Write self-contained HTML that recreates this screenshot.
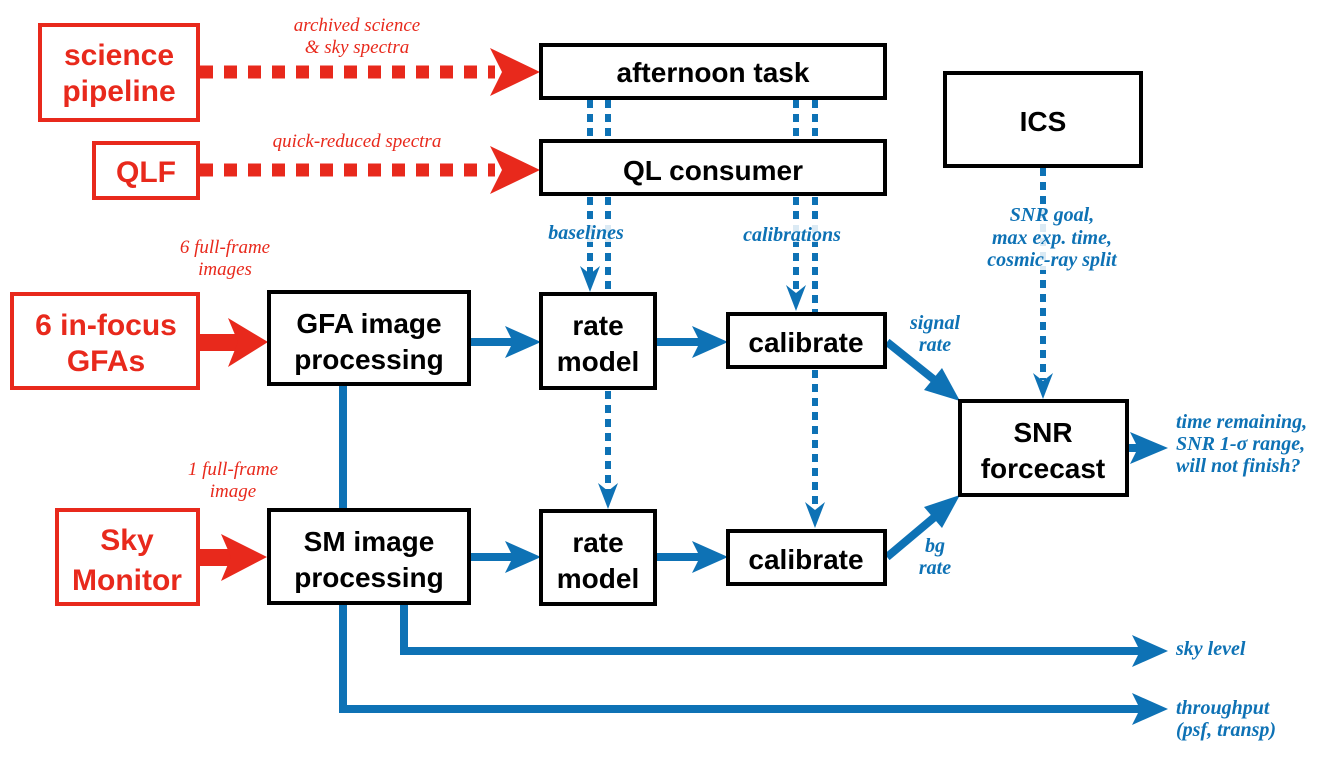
<!DOCTYPE html>
<html><head><meta charset="utf-8"><style>
html,body{margin:0;padding:0;background:#fff;}
svg{display:block;}
.b{font-family:"Liberation Sans",sans-serif;font-weight:bold;font-size:28px;text-anchor:middle;}
.r{fill:#e8291c;font-size:30px;}
.l{font-family:"Liberation Serif",serif;font-style:italic;font-size:19px;text-anchor:middle;}
.lb{fill:#0e72b5;font-weight:bold;font-size:20px;}
</style></head><body>
<svg width="1321" height="759" viewBox="0 0 1321 759" xmlns="http://www.w3.org/2000/svg">
<g stroke="#e8291c" stroke-width="13" stroke-dasharray="13,11">
<line x1="200" y1="72" x2="495" y2="72"/>
<line x1="200" y1="170" x2="495" y2="170"/>
</g>
<g fill="#e8291c">
<path d="M490,48 L540,72 L490,96 L502,72z"/>
<path d="M490,146 L540,170 L490,194 L502,170z"/>
<rect x="198" y="334" width="40" height="17"/>
<path d="M228,318 L268,342 L228,367 L238,342z"/>
<rect x="198" y="549" width="40" height="17"/>
<path d="M221,534 L267,557 L221,581 L231,557z"/>
</g>
<g stroke="#0e72b5" stroke-width="6" stroke-dasharray="8,6" fill="none">
<line x1="590" y1="100" x2="590" y2="140"/>
<line x1="608" y1="100" x2="608" y2="140"/>
<line x1="796" y1="100" x2="796" y2="140"/>
<line x1="815" y1="100" x2="815" y2="140"/>
<line x1="590" y1="197" x2="590" y2="275"/>
<line x1="608" y1="197" x2="608" y2="292"/>
<line x1="796" y1="197" x2="796" y2="295"/>
<line x1="815" y1="197" x2="815" y2="312"/>
<line x1="608" y1="391" x2="608" y2="492"/>
<line x1="815" y1="370" x2="815" y2="512"/>
<line x1="1043" y1="168" x2="1043" y2="380"/>
</g>
<g fill="#0e72b5">
<path d="M580,266 L590,292 L600,266 L590,274z"/>
<path d="M786,285 L796,311 L806,285 L796,293z"/>
<path d="M598,483 L608,509 L618,483 L608,491z"/>
<path d="M805,502 L815,528 L825,502 L815,510z"/>
<path d="M1033,373 L1043,399 L1053,373 L1043,381z"/>
</g>
<g fill="#fff" opacity="0.85">
<rect x="546" y="222" width="80" height="20"/>
<rect x="742" y="222" width="100" height="20"/>
<rect x="990" y="205" width="130" height="65"/>
</g>
<g stroke="#0e72b5" stroke-width="8" fill="none">
<line x1="470" y1="342" x2="515" y2="342"/>
<line x1="656" y1="342" x2="700" y2="342"/>
<line x1="470" y1="557" x2="515" y2="557"/>
<line x1="656" y1="557" x2="700" y2="557"/>
<line x1="887" y1="342" x2="937" y2="382"/>
<line x1="887" y1="557" x2="937" y2="515"/>
<line x1="1128" y1="448" x2="1150" y2="448"/>
<polyline points="343,386 343,709 1150,709"/>
<polyline points="404,605 404,651 1150,651"/>
</g>
<g fill="#0e72b5">
<path d="M505,326 L541,342 L505,358 L513,342z"/>
<path d="M692,326 L728,342 L692,358 L700,342z"/>
<path d="M505,541 L541,557 L505,573 L513,557z"/>
<path d="M692,541 L728,557 L692,573 L700,557z"/>
<path d="M960,401 L924,390 L942,368z"/>
<path d="M960,495 L942,528 L924,507z"/>
<path d="M1130,432 L1168,448 L1130,464 L1138,448z"/>
<path d="M1132,635 L1168,651 L1132,667 L1140,651z"/>
<path d="M1132,693 L1168,709 L1132,725 L1140,709z"/>
</g>
<g fill="#fff" stroke-width="4">
<g stroke="#e8291c">
<rect x="40" y="25" width="158" height="95"/>
<rect x="94" y="143" width="104" height="55"/>
<rect x="12" y="294" width="186" height="94"/>
<rect x="57" y="510" width="141" height="94"/>
</g>
<g stroke="#000">
<rect x="541" y="45" width="344" height="53"/>
<rect x="541" y="141" width="344" height="53"/>
<rect x="945" y="73" width="196" height="93"/>
<rect x="269" y="292" width="200" height="92"/>
<rect x="541" y="294" width="114" height="94"/>
<rect x="728" y="314" width="157" height="53"/>
<rect x="960" y="401" width="167" height="94"/>
<rect x="269" y="510" width="200" height="93"/>
<rect x="541" y="511" width="114" height="93"/>
<rect x="728" y="531" width="157" height="53"/>
</g>
</g>
<g class="b r">
<text x="119" y="65">science</text>
<text x="119" y="101">pipeline</text>
<text x="146" y="182">QLF</text>
<text x="106" y="335">6 in-focus</text>
<text x="106" y="371">GFAs</text>
<text x="127" y="550">Sky</text>
<text x="127" y="590">Monitor</text>
</g>
<g class="b">
<text x="713" y="82">afternoon task</text>
<text x="713" y="180">QL consumer</text>
<text x="1043" y="131">ICS</text>
<text x="369" y="333">GFA image</text>
<text x="369" y="369">processing</text>
<text x="598" y="335">rate</text>
<text x="598" y="371">model</text>
<text x="806" y="352">calibrate</text>
<text x="1043" y="442">SNR</text>
<text x="1043" y="478">forcecast</text>
<text x="369" y="551">SM image</text>
<text x="369" y="587">processing</text>
<text x="598" y="552">rate</text>
<text x="598" y="588">model</text>
<text x="806" y="569">calibrate</text>
</g>
<g class="l" fill="#e8291c">
<text x="357" y="31">archived science</text>
<text x="357" y="53">&amp; sky spectra</text>
<text x="357" y="147">quick-reduced spectra</text>
<text x="225" y="253">6 full-frame</text>
<text x="225" y="275">images</text>
<text x="233" y="475">1 full-frame</text>
<text x="233" y="497">image</text>
</g>
<g class="l lb">
<text x="586" y="239">baselines</text>
<text x="792" y="241">calibrations</text>
<text x="1052" y="221">SNR goal,</text>
<text x="1052" y="244">max exp. time,</text>
<text x="1052" y="266">cosmic-ray split</text>
<text x="935" y="329">signal</text>
<text x="935" y="351">rate</text>
<text x="935" y="552">bg</text>
<text x="935" y="574">rate</text>
<text x="1176" y="428" text-anchor="start">time remaining,</text>
<text x="1176" y="450" text-anchor="start">SNR 1-σ range,</text>
<text x="1176" y="472" text-anchor="start">will not finish?</text>
<text x="1176" y="655" text-anchor="start">sky level</text>
<text x="1176" y="714" text-anchor="start">throughput</text>
<text x="1176" y="736" text-anchor="start">(psf, transp)</text>
</g>
</svg>
</body></html>
